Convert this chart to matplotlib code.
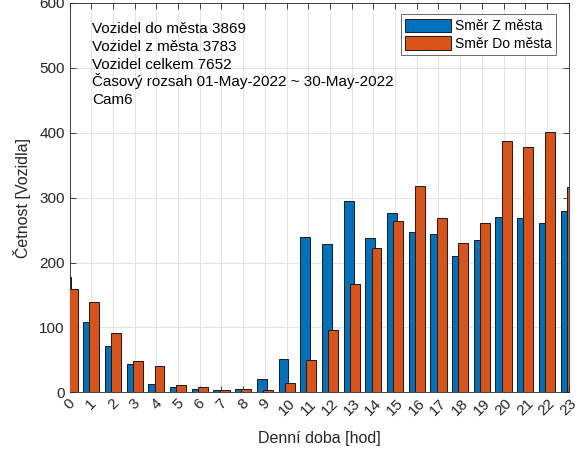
import matplotlib
matplotlib.use("Agg")
import matplotlib.pyplot as plt
import numpy as np

plt.rcParams['font.family'] = ['Liberation Sans', 'DejaVu Sans']

# hodiny a četnosti
hours = list(range(24))
z_mesta = [178, 109, 71, 44, 13, 9, 5, 3, 6, 20, 51, 240,
           229, 294, 238, 276, 247, 244, 210, 234, 270, 268, 261, 280]
do_mesta = [159, 139, 91, 49, 40, 11, 9, 3, 6, 3, 15, 50,
            96, 167, 222, 264, 318, 268, 230, 261, 387, 378, 401, 317]

info_lines = [
    "Vozidel do města 3869",
    "Vozidel z města 3783",
    "Vozidel celkem 7652",
    "Časový rozsah 01-May-2022 ~ 30-May-2022",
    "Cam6",
]
labels = ["Směr Z města", "Směr Do města"]

blue = "#0072BD"
orange = "#D95319"
dark = "#262626"

fig = plt.figure(figsize=(5.85, 4.5), dpi=100)
ax = fig.add_axes([0.119, 0.128, 0.853, 0.866])

x = np.array(hours)
off = 0.143
w = 0.457
ax.bar(x - off, z_mesta, w, color=blue, edgecolor="#1a1a1a", linewidth=0.7,
       label=labels[0], zorder=2)
ax.bar(x + off, do_mesta, w, color=orange, edgecolor="#1a1a1a", linewidth=0.7,
       label=labels[1], zorder=3)

ax.set_xlim(0, 23)
ax.set_ylim(0, 600)
ax.set_xticks(hours)
ax.set_xticklabels([str(h) for h in hours], rotation=45, ha="center", va="top")
ax.set_yticks(range(0, 601, 100))

ax.grid(True, color="#dedede", linewidth=0.6, zorder=0)
ax.set_axisbelow(True)
ax.tick_params(direction="in", top=True, right=True, length=4, width=0.6,
               colors=dark, labelsize=11, labelcolor=dark)
ax.tick_params(axis="x", pad=3)
for s in ax.spines.values():
    s.set_color(dark)
    s.set_linewidth(0.6)

ax.set_xlabel("Denní doba [hod]", fontsize=11.5, color=dark, labelpad=9)
ax.set_ylabel("Četnost [Vozidla]", fontsize=11.5, color=dark, labelpad=6)

# info text, one line at a time
for i, line in enumerate(info_lines):
    ax.annotate(line, xy=(0.0445, 0.9215), xycoords="axes fraction",
                xytext=(0, -12.75 * i), textcoords="offset points",
                ha="left", va="baseline", fontsize=11, color="black")

leg = ax.legend(loc="upper left", bbox_to_anchor=(0.664, 0.970), fontsize=10,
                frameon=True, fancybox=False, handlelength=3.3, handleheight=1.1,
                borderpad=0.3, labelspacing=0.25, handletextpad=0.3,
                borderaxespad=0)
leg.get_frame().set_edgecolor(dark)
leg.get_frame().set_linewidth(0.6)

fig.savefig("out.png", dpi=100)
